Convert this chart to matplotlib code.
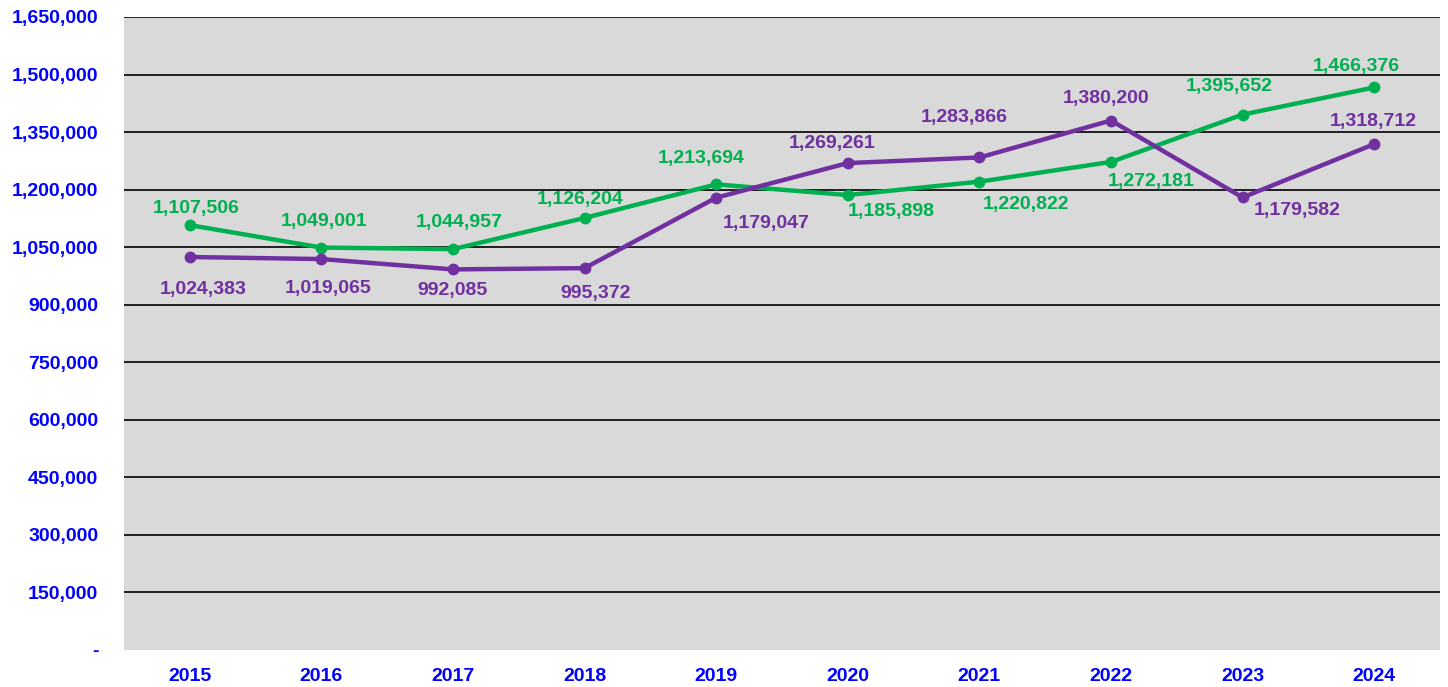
import matplotlib.pyplot as plt
from matplotlib.ticker import FuncFormatter

# data
years = ["2015", "2016", "2017", "2018", "2019", "2020", "2021", "2022", "2023", "2024"]
green_vals = [1107506, 1049001, 1044957, 1126204, 1213694, 1185898, 1220822, 1272181, 1395652, 1466376]
purple_vals = [1024383, 1019065, 992085, 995372, 1179047, 1269261, 1283866, 1380200, 1179582, 1318712]

GREEN = "#00B050"
PURPLE = "#7030A0"
BLUE = "#0000FF"

# label offsets in pixels (dx, dy), dy positive = up
green_off = [(6, 17), (3, 26), (6, 27), (-4, 18), (-15, 26), (43, -16), (47, -23), (40, -20), (-13, 28), (-18, 21)]
purple_off = [(13, -32), (7, -29), (0, -21), (11, -25), (50, -26), (-16, 20), (-15, 40), (-5, 22), (55, -13), (-1, 23)]

plt.rcParams["font.family"] = ["Liberation Sans", "DejaVu Sans"]

fig = plt.figure(figsize=(14.48, 6.87), dpi=100)
ax = fig.add_axes([124 / 1448, 37 / 687, 1316 / 1448, 633 / 687])
ax.set_facecolor("#D9D9D9")

x = list(range(len(years)))
ax.plot(x, green_vals, color=GREEN, lw=3.2, marker="o", ms=7.5, zorder=3)
ax.plot(x, purple_vals, color=PURPLE, lw=3.2, marker="o", ms=7.5, zorder=3)

for i, v in enumerate(green_vals):
    dx, dy = green_off[i]
    ax.annotate(f"{v:,}", (i, v), xytext=(dx * 0.72, dy * 0.72), textcoords="offset points",
                ha="center", va="center", color=GREEN, fontsize=14, fontweight="bold", zorder=4)
for i, v in enumerate(purple_vals):
    dx, dy = purple_off[i]
    ax.annotate(f"{v:,}", (i, v), xytext=(dx * 0.72, dy * 0.72), textcoords="offset points",
                ha="center", va="center", color=PURPLE, fontsize=14, fontweight="bold", zorder=4)

ax.set_xlim(-0.5, len(years) - 0.5)
ax.set_ylim(0, 1650000)
ax.set_yticks(range(0, 1650001, 150000))
ax.yaxis.set_major_formatter(FuncFormatter(lambda v, p: "-" if v == 0 else f"{int(v):,}"))
ax.set_xticks(x)
ax.set_xticklabels(years)

for yv in range(150000, 1650001, 150000):
    ax.axhline(yv, color="black", lw=1.2, zorder=1)

for s in ax.spines.values():
    s.set_visible(False)
ax.tick_params(length=0, colors=BLUE, labelsize=14)
ax.tick_params(axis="y", pad=18.5)
ax.tick_params(axis="x", pad=13)
for lab in ax.get_xticklabels() + ax.get_yticklabels():
    lab.set_fontweight("bold")

fig.savefig("out.png", dpi=100)
